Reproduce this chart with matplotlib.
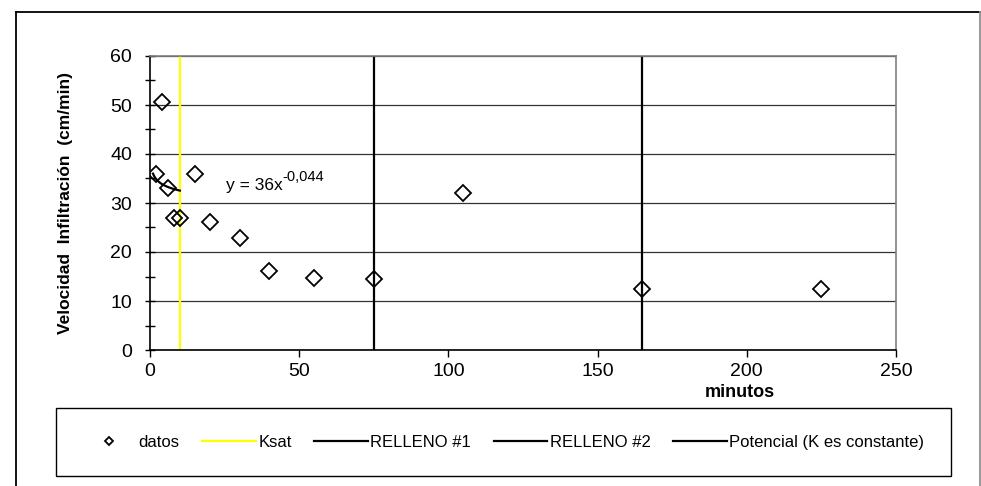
import numpy as np
import matplotlib
matplotlib.use("Agg")
import matplotlib.pyplot as plt
from matplotlib.lines import Line2D
from matplotlib.ticker import MultipleLocator

plt.rcParams['font.family'] = ['Liberation Sans', 'DejaVu Sans']

# ---- data ----
minutos = [2, 4, 6, 8, 10, 15, 20, 30, 40, 55, 75, 105, 165, 225]
velocidad = [36, 50.7, 33, 27, 27, 36, 26.2, 22.8, 16.1, 14.7, 14.5, 32, 12.4, 12.4]
ksat_x = 10
relleno1_x = 75
relleno2_x = 165
trend_a = 36
trend_b = -0.044
trend_range = [1, 10]
xticks = [0, 50, 100, 150, 200, 250]
yticks = [0, 10, 20, 30, 40, 50, 60]

W, H = 981, 486
fig = plt.figure(figsize=(W / 100, H / 100), dpi=100)
ax = fig.add_axes([150 / W, 1 - 350 / H, (896 - 150) / W, (350 - 56) / H])

ax.set_xlim(0, 250)
ax.set_ylim(0, 60)
ax.set_xticks(xticks)
ax.set_yticks(yticks)
ax.yaxis.set_minor_locator(MultipleLocator(5))

# gridlines
ax.grid(axis='y', which='major', color='#333333', linewidth=0.9, zorder=0)
ax.set_axisbelow(True)

# vertical reference lines
ax.axvline(ksat_x, color='#FFFF00', linewidth=1.6, zorder=2, label='Ksat')
ax.axvline(relleno1_x, color='black', linewidth=1.6, zorder=2, label='RELLENO #1')
ax.axvline(relleno2_x, color='black', linewidth=1.6, zorder=2, label='RELLENO #2')

# trend line
tx = np.linspace(trend_range[0], trend_range[1], 20)
ty = trend_a * tx ** trend_b
ax.plot(tx, ty, color='black', linewidth=1.6, zorder=5,
        label='Potencial (K es constante)')

# data points
ax.plot(minutos, velocidad, linestyle='none', marker='D', markersize=8.5,
        markerfacecolor='none', markeredgecolor='black', markeredgewidth=1.3,
        zorder=4, label='datos')

eq = ax.text(25.5, 32.7, 'y = 36x', fontsize=12.5, va='baseline', ha='left', zorder=5)
ax.annotate('-0,044', xy=(1.0, 0.6), xycoords=eq, fontsize=10.5,
            va='bottom', ha='left', zorder=5)

# spines
for s in ['left', 'bottom']:
    ax.spines[s].set_color('black')
    ax.spines[s].set_linewidth(1.2)
for s in ['top', 'right']:
    ax.spines[s].set_color('#808080')
    ax.spines[s].set_linewidth(1.2)

ax.tick_params(axis='y', which='both', direction='inout', length=7, width=1.0,
               pad=9.5, labelsize=14)
ax.tick_params(axis='x', which='major', direction='out', length=5, width=1.0,
               pad=4, labelsize=14)

ax.set_xlabel('minutos', fontsize=13, fontweight='bold')
ax.xaxis.set_label_coords((740 - 150) / 746, -(384 - 350) / 294)
ax.set_ylabel('Velocidad  Infiltración  (cm/min)', fontsize=12.5, fontweight='bold')
ax.yaxis.label.set_va('center')
ax.yaxis.set_label_coords(-(150 - 66) / 746, 0.5)

# legend
handles, labels = ax.get_legend_handles_labels()
order = ['datos', 'Ksat', 'RELLENO #1', 'RELLENO #2', 'Potencial (K es constante)']
hmap = dict(zip(labels, handles))
leg = fig.legend([hmap[k] for k in order], order, loc='center',
                 bbox_to_anchor=(56 / W, 1 - 476 / H, (951 - 56) / W, (476 - 408) / H),
                 mode='expand', ncol=5, fontsize=12, frameon=True, fancybox=False,
                 edgecolor='black', framealpha=1, borderpad=1.6, handlelength=3.2,
                 handletextpad=0.15, columnspacing=1.0, markerscale=0.45,
                 borderaxespad=0)
leg.get_frame().set_linewidth(1.0)

# outer chart frame
fig.add_artist(Line2D([16 / W, 16 / W], [0, 1 - 12.5 / H], transform=fig.transFigure,
                      color='black', linewidth=1.3))
fig.add_artist(Line2D([16 / W, 980 / W], [1 - 12.5 / H, 1 - 12.5 / H],
                      transform=fig.transFigure, color='black', linewidth=1.3))
fig.add_artist(Line2D([980 / W, 980 / W], [0, 1 - 12.5 / H], transform=fig.transFigure,
                      color='#909090', linewidth=1.3))

fig.savefig('out.png', dpi=100)
